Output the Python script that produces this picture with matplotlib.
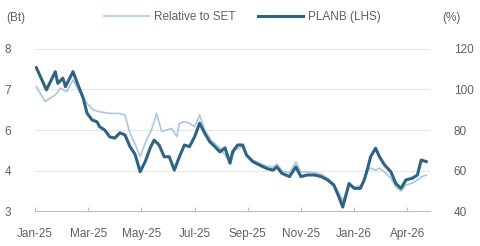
import matplotlib
matplotlib.use("Agg")
import matplotlib.pyplot as plt

# trading-day index and share price (Bt), PLANB
planb_day = [1, 9, 16, 18, 22, 24, 30, 33, 38, 41, 45, 49, 51, 55, 59, 63, 67, 71, 75, 79,
             83, 87, 91, 94, 98, 102, 106, 110, 114, 118, 122, 126, 130, 134, 138, 142, 146, 150,
             154, 156, 160, 164, 167, 172, 177, 183, 188, 191, 195, 201, 206, 210, 215, 221, 226,
             231, 236, 240, 243, 246, 248, 252, 257, 260, 263, 265, 269, 272, 276, 281, 285, 289,
             293, 298, 302, 305, 309]
planb_px = [7.54, 6.99, 7.44, 7.15, 7.28, 7.07, 7.44, 7.19, 6.79, 6.42, 6.25, 6.20, 6.08, 6.00,
            5.83, 5.80, 5.93, 5.88, 5.59, 5.40, 4.97, 5.22, 5.56, 5.75, 5.63, 5.34, 5.34, 5.01,
            5.34, 5.63, 5.59, 5.83, 6.17, 5.92, 5.71, 5.59, 5.46, 5.56, 5.18, 5.46, 5.63, 5.63,
            5.38, 5.22, 5.14, 5.05, 5.01, 5.09, 4.93, 4.85, 5.09, 4.85, 4.89, 4.89, 4.85, 4.77,
            4.64, 4.35, 4.10, 4.44, 4.68, 4.56, 4.56, 4.77, 5.09, 5.34, 5.55, 5.34, 5.14, 4.97,
            4.68, 4.56, 4.77, 4.81, 4.89, 5.26, 5.22]

# relative to SET (%)
rel_day = [1, 8, 12, 16, 20, 25, 30, 35, 41, 46, 51, 59, 66, 71, 75, 79, 83, 88, 92, 96, 100,
           104, 108, 112, 114, 118, 122, 126, 130, 134, 139, 146, 154, 158, 164, 167, 172, 177,
           183, 188, 191, 195, 201, 206, 210, 215, 221, 226, 231, 236, 240, 243, 246, 248, 252,
           257, 260, 263, 265, 269, 272, 276, 281, 285, 289, 293, 298, 302, 305, 309]
rel_set = [101.4, 94.0, 95.8, 97.3, 100.7, 98.9, 104.7, 98.9, 93.2, 89.9, 89.0, 88.2, 88.2,
           87.4, 78.5, 73.1, 66.8, 75.1, 80.0, 88.2, 79.2, 80.0, 80.8, 76.7, 83.3, 84.1, 83.3,
           81.6, 87.4, 80.0, 75.1, 71.0, 64.4, 70.1, 72.1, 68.1, 65.2, 63.7, 62.2, 61.7, 63.2,
           59.8, 58.8, 64.2, 59.3, 59.3, 58.8, 58.3, 56.3, 53.3, 48.9, 45.4, 49.4, 53.3, 51.9,
           52.4, 55.8, 60.2, 61.2, 60.2, 61.2, 59.3, 56.3, 51.9, 49.9, 52.8, 53.8, 55.3, 56.8,
           57.8]

tick_pos = [0, 42, 84, 126, 168, 210, 252, 294]
tick_lab = ["Jan-25", "Mar-25", "May-25", "Jul-25", "Sep-25", "Nov-25", "Jan-26", "Apr-26"]
left_ticks = [4, 5, 6, 7, 8]
left_lab = ["3", "4", "6", "7", "8"]
right_ticks = [40, 60, 80, 100, 120]

plt.rcParams["font.family"] = ["Liberation Sans", "DejaVu Sans"]

dark = "#2f6383"
light = "#a8c9de"
txt = "#606060"
fs = 8.5

fig = plt.figure(figsize=(4.8, 2.46), dpi=100)
ax = fig.add_axes([0.073, 0.142, 0.823, 0.659])
ax2 = ax.twinx()
# PLANB line drawn above the relative line
ax.set_zorder(ax2.get_zorder() + 1)
ax.patch.set_visible(False)

ln1, = ax.plot(planb_day, planb_px, color=dark, lw=2.2, label="PLANB (LHS)", zorder=3)
ln2, = ax2.plot(rel_day, rel_set, color=light, lw=1.2, label="Relative to SET", zorder=2)

ax.set_xlim(0, 312)
ax.set_ylim(4, 8)
ax2.set_ylim(40, 120)
ax.set_yticks(left_ticks)
ax.set_yticklabels(left_lab)
ax2.set_yticks(right_ticks)
ax.set_xticks(tick_pos)
ax.set_xticklabels(tick_lab)

for a in (ax, ax2):
    for s in ("top", "right", "left"):
        a.spines[s].set_visible(False)
    a.spines["bottom"].set_color("#bfbfbf")
ax2.spines["bottom"].set_visible(False)

ax2.grid(axis="y", color="#e6e6e6", lw=0.8)
ax.tick_params(axis="x", direction="in", length=3, color="#bfbfbf", labelsize=fs,
               labelcolor=txt, pad=12)
ax.tick_params(axis="y", length=0, labelsize=fs, labelcolor=txt, pad=17)
ax2.tick_params(axis="y", length=0, labelsize=fs, labelcolor=txt, pad=17)

fig.text(0.012, 0.925, "(Bt)", fontsize=fs, color=txt, va="center")
fig.text(0.922, 0.925, "(%)", fontsize=fs, color=txt, va="center")

fig.legend([ln2, ln1], ["Relative to SET", "PLANB (LHS)"], loc="center", ncol=2,
           bbox_to_anchor=(0.505, 0.93), frameon=False, fontsize=fs, labelcolor=txt,
           handlelength=3.8, handletextpad=0.4, columnspacing=1.9)

fig.savefig("out.png", dpi=100)
